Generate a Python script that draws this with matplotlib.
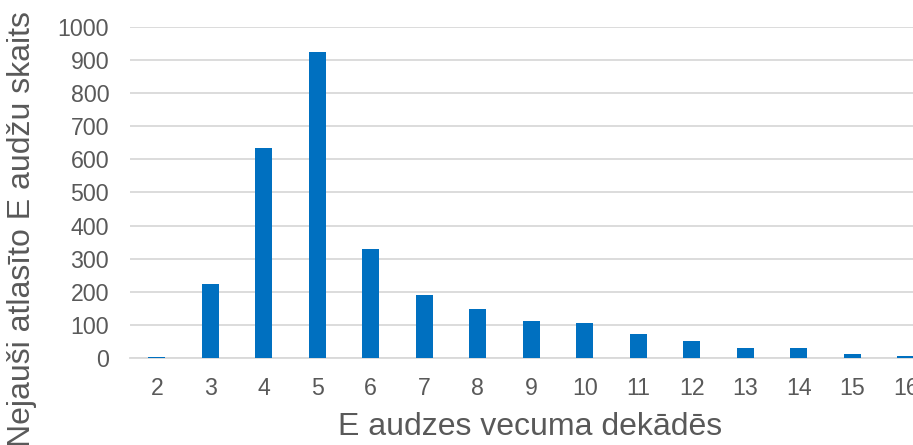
import matplotlib; matplotlib.use("Agg")
import matplotlib.pyplot as plt

# ── Data ──────────────────────────────────────────────────────────────────────
decades = ["2", "3", "4", "5", "6", "7", "8", "9", "10", "11", "12", "13", "14", "15", "16"]
counts  = [4, 224, 634, 924, 329, 190, 148, 112, 105, 72, 51, 30, 30, 13, 5]

BAR   = "#0070C0"
TXT   = "#595959"
GRID  = "#D9D9D9"

plt.rcParams["font.family"] = ["Liberation Sans", "DejaVu Sans"]

fig = plt.figure(figsize=(9.13, 4.45), dpi=100)
# plot area runs past the right edge, as in the original screenshot
ax = fig.add_axes([0.1424, 0.1955, 0.879, 0.744])

x = list(range(len(decades)))
ax.bar(x, counts, width=0.32, color=BAR, zorder=3)

ax.set_xlim(-0.5, len(decades) - 0.5)
ax.set_ylim(0, 1000)
ax.set_yticks(range(0, 1001, 100))
ax.set_xticks(x)
ax.set_xticklabels(decades)

ax.grid(axis="y", color=GRID, linewidth=1.3, zorder=0)
ax.tick_params(axis="both", length=0, labelsize=16.7, colors=TXT)
ax.tick_params(axis="x", pad=14)
ax.tick_params(axis="y", pad=15)
for s in ["top", "right", "left"]:
    ax.spines[s].set_visible(False)
ax.spines["bottom"].set_color(GRID)
ax.spines["bottom"].set_linewidth(1.3)

fig.text(0.5805, 0.04, "E audzes vecuma dekādēs", ha="center", va="center",
         fontsize=23, color=TXT)
fig.text(0.024, 0.485, "Nejauši atlasīto E audžu skaits", ha="center", va="center",
         rotation=90, fontsize=23, color=TXT)

fig.savefig("out.png", dpi=100)
plt.close()
